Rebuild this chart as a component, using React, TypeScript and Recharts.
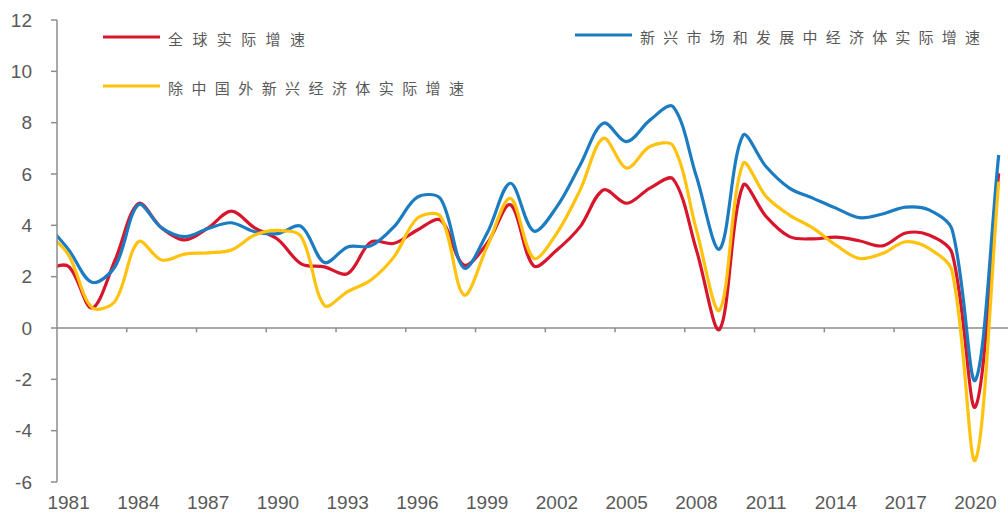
import { LineChart, Line, XAxis, YAxis, ReferenceLine, Legend } from "recharts"

const YEARS = [
  1980, 1981, 1982, 1983, 1984, 1985, 1986, 1987, 1988, 1989, 1990, 1991, 1992, 1993,
  1994, 1995, 1996, 1997, 1998, 1999, 2000, 2001, 2002, 2003, 2004, 2005, 2006, 2007,
  2008, 2009, 2010, 2011, 2012, 2013, 2014, 2015, 2016, 2017, 2018, 2019, 2020, 2021,
]

// 全球实际增速
const WORLD = [
  2.3, 2.4, 0.78, 2.65, 4.85, 3.9, 3.43, 3.9, 4.55, 3.9, 3.45, 2.5, 2.38, 2.12,
  3.35, 3.3, 3.82, 4.2, 2.45, 3.3, 4.8, 2.42, 3.04, 3.95, 5.38, 4.86, 5.45, 5.8,
  3.04, -0.05, 5.55, 4.34, 3.56, 3.47, 3.54, 3.4, 3.2, 3.7, 3.62, 2.9, -3.07, 6.03,
]

// 新兴市场和发展中经济体实际增速
const EMDE = [
  4.1, 3.05, 1.78, 2.4, 4.8, 3.9, 3.56, 3.88, 4.1, 3.75, 3.68, 3.96, 2.55, 3.16,
  3.2, 3.95, 5.1, 5.03, 2.34, 3.7, 5.64, 3.78, 4.73, 6.35, 7.98, 7.26, 8.1, 8.62,
  5.9, 3.08, 7.5, 6.28, 5.45, 5.06, 4.67, 4.3, 4.44, 4.71, 4.6, 3.82, -2.03, 6.74,
]

// 除中国外新兴经济体实际增速
const EMDE_EX_CHINA = [
  3.8, 2.84, 0.8, 1.05, 3.36, 2.65, 2.88, 2.93, 3.04, 3.62, 3.8, 3.56, 0.88, 1.42,
  1.87, 2.78, 4.28, 4.34, 1.29, 3.17, 5.05, 2.72, 3.7, 5.38, 7.39, 6.23, 7.07, 7.09,
  3.82, 0.7, 6.4, 5.12, 4.4, 3.9, 3.23, 2.71, 2.9, 3.36, 3.1, 2.2, -5.14, 5.7,
]

const X_LABELS = [1981, 1984, 1987, 1990, 1993, 1996, 1999, 2002, 2005, 2008, 2011, 2014, 2017, 2020]
const Y_TICKS = [-6, -4, -2, 0, 2, 4, 6, 8, 10, 12]
// tick marks on the zero line sit between categories
const ZERO_MARKS = [1983.5, 1986.5, 1989.5, 1992.5, 1995.5, 1998.5, 2001.5, 2004.5, 2007.5, 2010.5, 2013.5, 2016.5, 2019.5]

const data = YEARS.map((year, i) => ({
  year,
  world: WORLD[i],
  emde: EMDE[i],
  exChina: EMDE_EX_CHINA[i],
}))

const AXIS = "#8c8c8c"
const TEXT = "#595959"
const FONT = "'Liberation Sans', Arial, sans-serif"

// excel-like smoothed line: bezier through every point, handles scaled by segment length
function smoothCurve(context: any) {
  let pts: number[][] = []
  const dist = (a: number[], b: number[]) => Math.hypot(b[0] - a[0], b[1] - a[1])
  return {
    areaStart() {},
    areaEnd() {},
    lineStart() {
      pts = []
    },
    lineEnd() {
      const n = pts.length
      if (!n) return
      const k = 1 / 3
      const handles = pts.map((p, i) => {
        const prev = pts[Math.max(i - 1, 0)]
        const next = pts[Math.min(i + 1, n - 1)]
        const tx = next[0] - prev[0]
        const ty = next[1] - prev[1]
        const da = dist(prev, p)
        const db = dist(p, next)
        const s = da + db || 1
        return {
          inX: p[0] - tx * k * (da / s),
          inY: p[1] - ty * k * (da / s),
          outX: p[0] + tx * k * (db / s),
          outY: p[1] + ty * k * (db / s),
        }
      })
      context.moveTo(pts[0][0], pts[0][1])
      for (let i = 0; i < n - 1; i++) {
        const a = handles[i]
        const b = handles[i + 1]
        context.bezierCurveTo(a.outX, a.outY, b.inX, b.inY, pts[i + 1][0], pts[i + 1][1])
      }
    },
    point(x: number, y: number) {
      pts.push([+x, +y])
    },
  }
}

const LEGEND_POS = [
  { x: 103, y: 37, len: 137 },
  { x: 575, y: 35, len: 340 },
  { x: 103, y: 86, len: 296 },
]

function renderLegend(props: any) {
  const payload = props.payload || []
  return (
    <svg width={1008} height={100}>
      {payload.map((p: any, i: number) => {
        const pos = LEGEND_POS[i]
        return (
          <g key={i}>
            <line x1={pos.x} x2={pos.x + 57} y1={pos.y} y2={pos.y} stroke={p.color} strokeWidth={3} />
            <text
              x={pos.x + 65}
              y={pos.y + 1}
              dominantBaseline="central"
              textLength={pos.len}
              lengthAdjust="spacing"
              fill={TEXT}
              fontSize={15}
              fontFamily="'Noto Sans CJK SC', sans-serif"
            >
              {p.value}
            </text>
          </g>
        )
      })}
    </svg>
  )
}

export default function App() {
  return (
    <div style={{ position: "absolute", left: 0, top: 0, background: "#fff" }}>
      <LineChart width={1008} height={514} data={data} margin={{ top: 20, right: 0, bottom: 0, left: 0 }}>
        <XAxis
          dataKey="year"
          type="number"
          domain={[1980.5, 2021.4]}
          allowDataOverflow
          ticks={X_LABELS}
          interval={0}
          axisLine={false}
          tickLine={false}
          tickSize={8}
          tickMargin={6}
          height={32}
          tick={{ fill: TEXT, fontSize: 19, fontFamily: FONT }}
        />
        <YAxis
          domain={[-6, 12]}
          ticks={Y_TICKS}
          interval={0}
          width={57}
          axisLine={{ stroke: AXIS, strokeWidth: 1.5 }}
          tickLine={{ stroke: AXIS, strokeWidth: 1.5 }}
          tickSize={6}
          tickMargin={19}
          tick={{ fill: TEXT, fontSize: 19, fontFamily: FONT }}
        />
        <ReferenceLine y={0} stroke={AXIS} strokeWidth={1.5} />
        {ZERO_MARKS.map((m) => (
          <ReferenceLine
            key={m}
            segment={[{ x: m, y: 0 }, { x: m, y: -0.17 }]}
            stroke={AXIS}
            strokeWidth={1.5}
          />
        ))}
        <Legend
          content={renderLegend}
          layout="horizontal"
          verticalAlign="middle"
          align="center"
          wrapperStyle={{ position: "absolute", left: 0, top: 0, width: 1008, height: 100 }}
        />
        <Line
          dataKey="world"
          name="全球实际增速"
          type={smoothCurve as any}
          stroke="#d7152c"
          strokeWidth={3.2}
          dot={false}
          isAnimationActive={false}
        />
        <Line
          dataKey="emde"
          name="新兴市场和发展中经济体实际增速"
          type={smoothCurve as any}
          stroke="#1b7cc1"
          strokeWidth={3.2}
          dot={false}
          isAnimationActive={false}
        />
        <Line
          dataKey="exChina"
          name="除中国外新兴经济体实际增速"
          type={smoothCurve as any}
          stroke="#ffc20e"
          strokeWidth={3.2}
          dot={false}
          isAnimationActive={false}
        />
      </LineChart>
    </div>
  )
}
